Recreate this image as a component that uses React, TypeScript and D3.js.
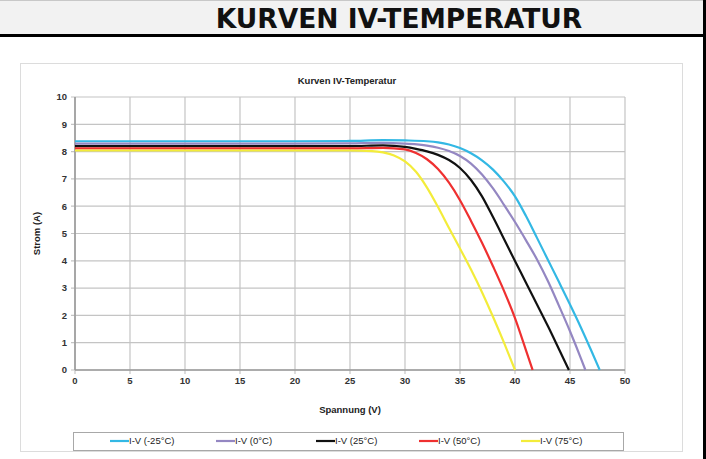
import * as d3 from 'd3';

// voltage (V) / current (A) points
const seriesNames = ['I-V (-25°C)', 'I-V (0°C)', 'I-V (25°C)', 'I-V (50°C)', 'I-V (75°C)'];
const seriesColors = ['#33b8e4', '#9487c2', '#111111', '#ef3030', '#f3ec3a'];

const ivMinus25: [number, number][] = [
  [0, 8.38], [10, 8.38], [20, 8.38], [25, 8.39], [28, 8.42], [30, 8.41], [32, 8.38], [33, 8.34],
  [34, 8.26], [35, 8.13], [36, 7.94], [37, 7.68], [38, 7.34], [39, 6.9], [40, 6.36],
  [41, 5.64], [42, 4.84], [43, 4.03], [44, 3.22], [45, 2.4], [46, 1.55], [47, 0.65], [47.7, 0],
];
const iv0: [number, number][] = [
  [0, 8.29], [10, 8.29], [20, 8.29], [25, 8.3], [28, 8.32], [30, 8.29], [32, 8.22], [33, 8.14],
  [34, 8.02], [35, 7.84], [36, 7.56], [37, 7.16], [38, 6.65], [39, 6.05], [40, 5.42],
  [41, 4.75], [42, 4.05], [43, 3.25], [44, 2.35], [45, 1.42], [46, 0.42], [46.4, 0],
];
const iv25: [number, number][] = [
  [0, 8.2], [10, 8.2], [20, 8.2], [25, 8.2], [28, 8.23], [30, 8.17], [31, 8.1], [32, 8.01],
  [33, 7.88], [34, 7.69], [35, 7.4], [36, 6.96], [37, 6.36], [38, 5.6], [39, 4.8],
  [40, 3.99], [41, 3.2], [42, 2.4], [43, 1.6], [44, 0.76], [44.9, 0],
];
const iv50: [number, number][] = [
  [0, 8.12], [10, 8.12], [20, 8.12], [25, 8.12], [28, 8.14], [30, 8.08], [31, 7.95], [32, 7.72],
  [33, 7.36], [34, 6.86], [35, 6.22], [36, 5.46], [37, 4.66], [38, 3.8], [39, 2.9],
  [40, 1.9], [41, 0.72], [41.6, 0],
];
const iv75: [number, number][] = [
  [0, 8.04], [10, 8.04], [20, 8.04], [25, 8.04], [27, 8.02], [28, 7.97], [29, 7.86], [30, 7.64],
  [31, 7.26], [32, 6.68], [33, 5.97], [34, 5.2], [35, 4.45], [36, 3.68], [37, 2.85],
  [38, 1.95], [39, 1.0], [40, 0],
];
const seriesData = [ivMinus25, iv0, iv25, iv50, iv75];

const xTicks = [0, 5, 10, 15, 20, 25, 30, 35, 40, 45, 50];
const yTicks = [0, 1, 2, 3, 4, 5, 6, 7, 8, 9, 10];

const W = 706;
const H = 459;
const plot = { left: 75, right: 625, top: 97, bottom: 370 };
const font = 'Arial, "Liberation Sans", sans-serif';

const App = () => {
  const x = d3.scaleLinear().domain([0, 50]).range([plot.left, plot.right]);
  const y = d3.scaleLinear().domain([0, 10]).range([plot.bottom, plot.top]);

  const line = d3.line<[number, number]>()
    .x((d) => x(d[0]))
    .y((d) => y(d[1]))
    .curve(d3.curveMonotoneX);

  const legendX = [110, 216, 316, 419, 521];

  return (
    <div style={{ position: 'absolute', left: 0, top: 0 }}>
      <svg width={W} height={H} style={{ display: 'block', background: '#fff' }}>
        {/* heading bar */}
        <rect x={0} y={0} width={W} height={35} fill="#f2f2f2" />
        <line x1={0} x2={W} y1={0.5} y2={0.5} stroke="#c8c8c8" />
        <line x1={0} x2={W} y1={35.5} y2={35.5} stroke="#000" strokeWidth={3} />
        <line x1={704.5} x2={704.5} y1={0} y2={H} stroke="#000" strokeWidth={3} />
        <text
          x={399}
          y={28}
          textAnchor="middle"
          fontFamily='"DejaVu Sans", Verdana, sans-serif'
          fontWeight="bold"
          fontSize={26.5}
          fill="#111"
        >
          KURVEN IV-TEMPERATUR
        </text>

        {/* chart frame */}
        <rect x={20.5} y={63.5} width={662} height={388} fill="#fff" stroke="#dcdcdc" />
        <text x={347} y={84} textAnchor="middle" fontFamily={font} fontWeight="bold" fontSize={9.5} fill="#222">
          Kurven IV-Temperatur
        </text>

        {/* grid */}
        {yTicks.map((t) => (
          <line key={`gy${t}`} x1={plot.left - 4} x2={plot.right} y1={y(t)} y2={y(t)} stroke="#c4c4c4" strokeWidth={1.2} />
        ))}
        {xTicks.map((t) => (
          <line key={`gx${t}`} x1={x(t)} x2={x(t)} y1={plot.top} y2={plot.bottom + 4} stroke="#c4c4c4" strokeWidth={1.2} />
        ))}
        <line x1={plot.left} x2={plot.left} y1={plot.top} y2={plot.bottom} stroke="#9a9a9a" strokeWidth={1.6} />
        <line x1={plot.left} x2={plot.right} y1={plot.bottom} y2={plot.bottom} stroke="#9a9a9a" strokeWidth={1.6} />

        {/* tick labels */}
        {yTicks.map((t) => (
          <text key={`ty${t}`} x={67} y={y(t)} dy="0.35em" textAnchor="end" fontFamily={font} fontWeight="bold" fontSize={9.5} fill="#333">
            {t}
          </text>
        ))}
        {xTicks.map((t) => (
          <text key={`tx${t}`} x={x(t)} y={384} textAnchor="middle" fontFamily={font} fontWeight="bold" fontSize={9.5} fill="#333">
            {t}
          </text>
        ))}

        {/* axis titles */}
        <text x={350} y={413} textAnchor="middle" fontFamily={font} fontWeight="bold" fontSize={9.5} fill="#222">
          Spannung (V)
        </text>
        <text
          transform={`translate(40, ${(plot.top + plot.bottom) / 2}) rotate(-90)`}
          textAnchor="middle"
          fontFamily={font}
          fontWeight="bold"
          fontSize={9.5}
          fill="#222"
        >
          Strom (A)
        </text>

        {/* curves */}
        {seriesData.map((d, i) => (
          <path key={seriesNames[i]} d={line(d) ?? ''} fill="none" stroke={seriesColors[i]} strokeWidth={2.2} />
        ))}

        {/* legend */}
        <rect x={73.5} y={432.5} width={550} height={18} fill="#fff" stroke="#a8a8a8" />
        {seriesNames.map((name, i) => (
          <g key={`lg${i}`}>
            <line x1={legendX[i]} x2={legendX[i] + 19} y1={441} y2={441} stroke={seriesColors[i]} strokeWidth={2.2} />
            <text x={legendX[i] + 19} y={441} dy="0.35em" fontFamily={font} fontSize={9.5} fill="#222">
              {name}
            </text>
          </g>
        ))}
      </svg>
    </div>
  );
};

export default App;
